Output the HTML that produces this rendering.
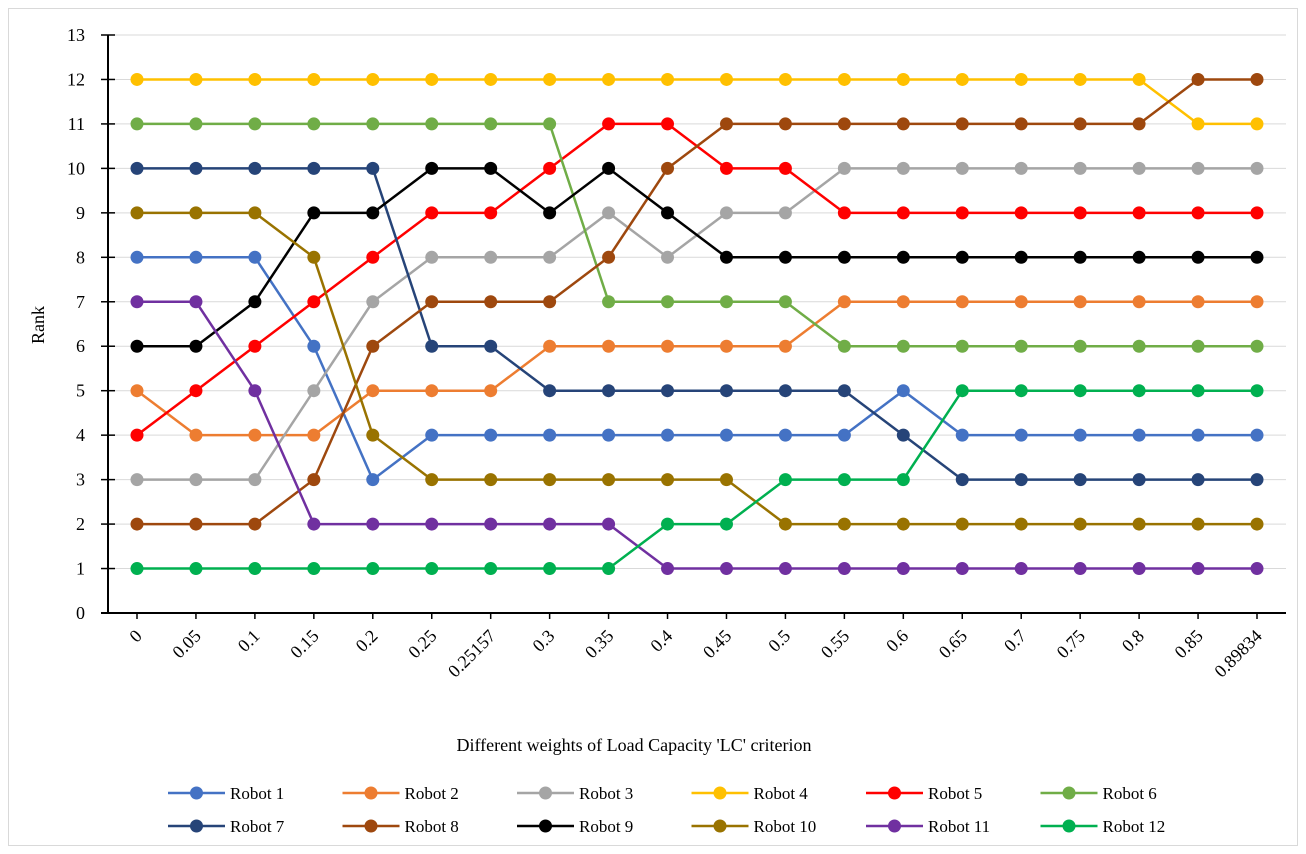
<!DOCTYPE html>
<html><head><meta charset="utf-8"><style>
body{margin:0;background:#fff;}
svg{display:block;font-family:"Liberation Serif",serif;}
</style></head><body>
<svg id="chart" width="1306" height="854" xmlns="http://www.w3.org/2000/svg">
<rect x="8.5" y="8.5" width="1289" height="837" fill="#fff" stroke="#d9d9d9"/>
<g id="grid"></g><g id="axes"></g><g id="series"></g><g id="legend"></g>
<text x="634" y="751" font-size="18" text-anchor="middle">Different weights of Load Capacity 'LC' criterion</text>
<text x="44" y="325" font-size="18" text-anchor="middle" transform="rotate(-90 44 325)">Rank</text>
</svg>
<script>
const categories=["0","0.05","0.1","0.15","0.2","0.25","0.25157","0.3","0.35","0.4","0.45","0.5","0.55","0.6","0.65","0.7","0.75","0.8","0.85","0.89834"];
const yTicks=[0,1,2,3,4,5,6,7,8,9,10,11,12,13];
const seriesNames=["Robot 1","Robot 2","Robot 3","Robot 4","Robot 5","Robot 6","Robot 7","Robot 8","Robot 9","Robot 10","Robot 11","Robot 12"];
const seriesColors=["#4472C4","#ED7D31","#A5A5A5","#FFC000","#FF0000","#70AD47","#264478","#9E480E","#000000","#997300","#7030A0","#00B050"];
const robot1=[8,8,8,6,3,4,4,4,4,4,4,4,4,5,4,4,4,4,4,4];
const robot2=[5,4,4,4,5,5,5,6,6,6,6,6,7,7,7,7,7,7,7,7];
const robot3=[3,3,3,5,7,8,8,8,9,8,9,9,10,10,10,10,10,10,10,10];
const robot4=[12,12,12,12,12,12,12,12,12,12,12,12,12,12,12,12,12,12,11,11];
const robot5=[4,5,6,7,8,9,9,10,11,11,10,10,9,9,9,9,9,9,9,9];
const robot6=[11,11,11,11,11,11,11,11,7,7,7,7,6,6,6,6,6,6,6,6];
const robot7=[10,10,10,10,10,6,6,5,5,5,5,5,5,4,3,3,3,3,3,3];
const robot8=[2,2,2,3,6,7,7,7,8,10,11,11,11,11,11,11,11,11,12,12];
const robot9=[6,6,7,9,9,10,10,9,10,9,8,8,8,8,8,8,8,8,8,8];
const robot10=[9,9,9,8,4,3,3,3,3,3,3,2,2,2,2,2,2,2,2,2];
const robot11=[7,7,5,2,2,2,2,2,2,1,1,1,1,1,1,1,1,1,1,1];
const robot12=[1,1,1,1,1,1,1,1,1,2,2,3,3,3,5,5,5,5,5,5];
const allSeries=[robot1,robot2,robot3,robot4,robot5,robot6,robot7,robot8,robot9,robot10,robot11,robot12];

const NS="http://www.w3.org/2000/svg";
const X0=137,X1=1257,Y0=613,Y13=35,AXL=108,AXR=1286;
const xScale=i=>X0+i*(X1-X0)/(categories.length-1);
const yScale=v=>Y0-(v/13)*(Y0-Y13);
function mk(tag,attrs,parent){const e=document.createElementNS(NS,tag);for(const k in attrs)e.setAttribute(k,attrs[k]);parent.appendChild(e);return e;}
const grid=document.getElementById('grid'),axes=document.getElementById('axes'),ser=document.getElementById('series'),leg=document.getElementById('legend');
yTicks.forEach(t=>{
  const y=yScale(t);
  if(t>0){
    const l=mk('line',{x1:AXL,x2:AXR,y1:y,y2:y,stroke:'#d9d9d9','stroke-width':1},grid);
    
    
  }
  mk('line',{x1:AXL-7,x2:AXL+7,y1:y,y2:y,stroke:'#000','stroke-width':1.5},axes);
  const tx=mk('text',{x:AXL-23,y:y+6,'font-size':18,'text-anchor':'end'},axes);
  tx.textContent=t;
  
  
});
const ya=mk('line',{x1:AXL,x2:AXL,y1:Y13,y2:Y0,stroke:'#000','stroke-width':2},axes);


const xa=mk('line',{x1:AXL-7,x2:AXR,y1:Y0,y2:Y0,stroke:'#000','stroke-width':2},axes);


categories.forEach((c,i)=>{
  mk('line',{x1:xScale(i),x2:xScale(i),y1:Y0,y2:Y0+6,stroke:'#000','stroke-width':1.5},axes);
  const x=xScale(i)+6,y=Y0+24;
  const tx=mk('text',{x:x,y:y,'font-size':18,'text-anchor':'end',transform:`rotate(-45 ${x} ${y})`},axes);
  tx.textContent=c;
  
  
});
allSeries.forEach((d,s)=>{
  const g=mk('g',{},ser);
  
  
  const pts=d.map((v,i)=>xScale(i)+','+yScale(v)).join(' ');
  mk('polyline',{points:pts,fill:'none',stroke:seriesColors[s],'stroke-width':2.5},g);
  d.forEach((v,i)=>{
    const c=mk('circle',{cx:xScale(i),cy:yScale(v),r:6.5,fill:seriesColors[s]},g);
    
    
  });
});
seriesNames.forEach((n,s)=>{
  const col=s%6,row=Math.floor(s/6);
  const x=168+col*174.5,y=793+row*33;
  const g=mk('g',{},leg);
  
  
  mk('line',{x1:x,x2:x+57,y1:y,y2:y,stroke:seriesColors[s],'stroke-width':2.5},g);
  mk('circle',{cx:x+28.5,cy:y,r:6.5,fill:seriesColors[s]},g);
  const t=mk('text',{x:x+62,y:y+6,'font-size':17},g);
  t.textContent=n;
});
</script>
</body></html>
